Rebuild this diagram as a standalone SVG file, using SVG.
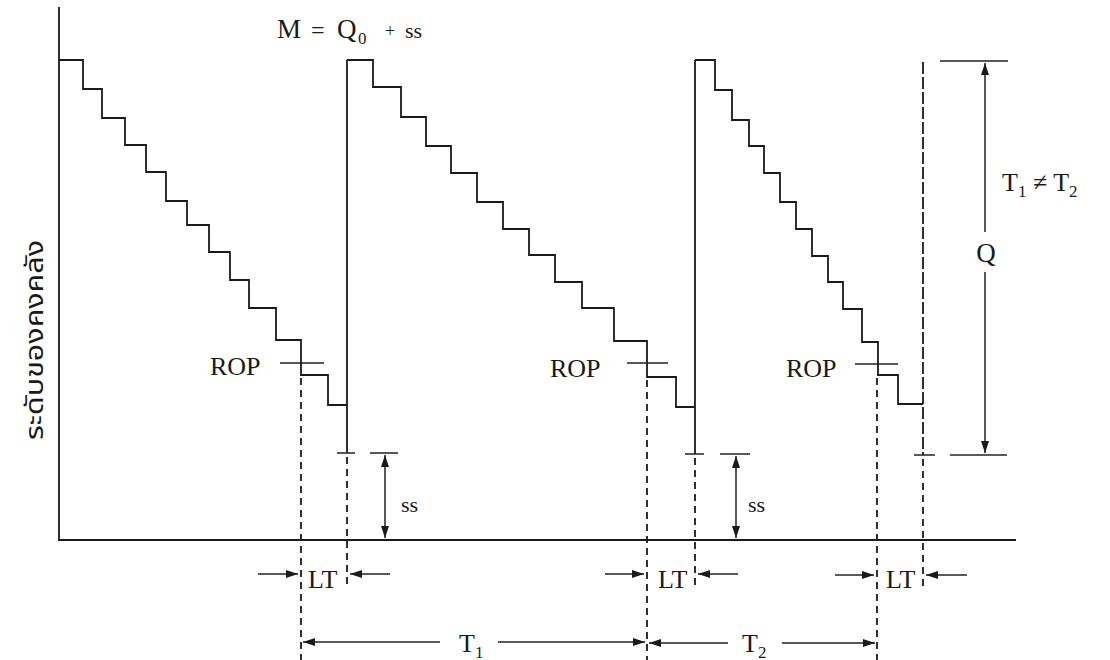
<svg xmlns="http://www.w3.org/2000/svg" width="1110" height="660" viewBox="0 0 1110 660">
<style>
.ln{stroke:#1a1a1a;stroke-width:1.8;fill:none}
.thin{stroke:#222;stroke-width:1.5;fill:none}
.dash{stroke:#1a1a1a;stroke-width:1.8;fill:none;stroke-dasharray:7 5}
.t{font-family:"Liberation Serif","Times New Roman",serif;fill:#1a1a1a}
.lbl{font-size:26px}
.sm{font-size:22px}
.sub{font-size:17px}
.th{font-family:"Noto Sans Thai","Noto Serif Thai","Loma","Garuda","DejaVu Sans","Liberation Sans",sans-serif;font-size:25px;fill:#1a1a1a}
</style>
<defs>
<marker id="ah" viewBox="0 0 12 8" refX="12" refY="4" markerWidth="12" markerHeight="8" markerUnits="userSpaceOnUse" orient="auto-start-reverse">
<path d="M0,0 L12,4 L0,8 z" fill="#1a1a1a"/>
</marker>
</defs>
<rect width="1110" height="660" fill="#ffffff"/>

<g id="axes">
<line class="ln" x1="59" y1="7" x2="59" y2="540"/>
<line class="ln" x1="58" y1="540" x2="1016" y2="540"/>
</g>

<g id="cycle1">
<path class="ln" d="M59,60 H83 V89 H102 V118 H125 V145 H146 V172 H166 V201 H187 V225 H209 V252 H230 V280 H249 V308 H276 V340 H301 V375 H328 V405 H347"/>
<line class="ln" x1="347" y1="60" x2="347" y2="453"/>
<line class="thin" x1="337" y1="453" x2="355" y2="453"/>
</g>

<g id="cycle2">
<path class="ln" d="M347,60 H373 V87 H401 V117 H426 V146 H451 V173 H477 V202 H503 V229 H529 V255 H555 V282 H582 V308 H614 V341 H647 V377 H676 V407 H695"/>
<line class="ln" x1="695" y1="60" x2="695" y2="454"/>
<line class="thin" x1="685" y1="454" x2="704" y2="454"/>
</g>

<g id="cycle3">
<path class="ln" d="M695,60 H715 V90 H732 V120 H749 V146 H764 V173 H780 V202 H796 V229 H812 V256 H828 V282 H843 V309 H862 V342 H878 V375 H898 V404 H923"/>
<line class="ln" x1="923" y1="62" x2="923" y2="455" stroke-dasharray="12 3" stroke-width="1.6"/>
<line class="thin" x1="914" y1="455" x2="935" y2="455"/>
</g>

<g id="rop1">
<line class="thin" x1="280" y1="363" x2="324" y2="363"/>
<text class="t lbl" x="210" y="375">ROP</text>
</g>
<g id="rop2">
<line class="thin" x1="627" y1="363" x2="668" y2="363"/>
<text class="t lbl" x="550" y="377">ROP</text>
</g>
<g id="rop3">
<line class="thin" x1="855" y1="364" x2="898" y2="364"/>
<text class="t lbl" x="786" y="377">ROP</text>
</g>

<g id="title">
<text class="t" x="277" y="38" font-size="27">M</text>
<text class="t" x="311" y="38" font-size="24">=</text>
<text class="t" x="337" y="38" font-size="27">Q</text>
<text class="t sub" x="358" y="44">0</text>
<text class="t" x="385" y="37" font-size="18">+</text>
<text class="t" x="405" y="38" font-size="22">ss</text>
</g>

<g id="label-T1neT2">
<text class="t" x="1002" y="191" font-size="26">T<tspan class="sub" dy="6">1</tspan><tspan dy="-6" font-size="26"> ≠ T</tspan><tspan class="sub" dy="6">2</tspan></text>
</g>

<g id="label-Q">
<text class="t" x="986" y="262" font-size="27" text-anchor="middle">Q</text>
</g>

<g id="label-ss1"><text class="t sm" x="401" y="512">ss</text></g>
<g id="label-ss2"><text class="t sm" x="748" y="512">ss</text></g>

<g id="label-LT1"><text class="t lbl" x="308" y="588">LT</text></g>
<g id="label-LT2"><text class="t lbl" x="658" y="588">LT</text></g>
<g id="label-LT3"><text class="t lbl" x="886" y="588">LT</text></g>

<g id="label-T1"><text class="t lbl" x="459" y="652">T<tspan class="sub" dy="6">1</tspan></text></g>
<g id="label-T2"><text class="t lbl" x="742" y="652">T<tspan class="sub" dy="6">2</tspan></text></g>

<g id="ylabel">
<text class="th" transform="translate(43,340) rotate(-90)" text-anchor="middle" textLength="200" lengthAdjust="spacingAndGlyphs">ระดับของคงคลัง</text>
</g>

<g id="connectors">
<line class="dash" x1="301" y1="378" x2="301" y2="660"/>
<line class="dash" x1="347" y1="457" x2="347" y2="588"/>
<line class="dash" x1="647" y1="380" x2="647" y2="660"/>
<line class="dash" x1="695" y1="458" x2="695" y2="588"/>
<line class="dash" x1="877" y1="378" x2="877" y2="660"/>
<line class="dash" x1="923" y1="459" x2="923" y2="590"/>
<line class="thin" x1="370" y1="453" x2="398" y2="453"/>
<line class="thin" x1="385" y1="455" x2="385" y2="538" marker-start="url(#ah)" marker-end="url(#ah)"/>
<line class="thin" x1="720" y1="454" x2="750" y2="454"/>
<line class="thin" x1="736" y1="456" x2="736" y2="538" marker-start="url(#ah)" marker-end="url(#ah)"/>
<line class="thin" x1="940" y1="61" x2="1008" y2="61"/>
<line class="thin" x1="950" y1="455" x2="1007" y2="455"/>
<line class="thin" x1="985" y1="232" x2="985" y2="63" marker-end="url(#ah)"/>
<line class="thin" x1="985" y1="272" x2="985" y2="453" marker-end="url(#ah)"/>
<line class="thin" x1="258" y1="574" x2="298" y2="574" marker-end="url(#ah)"/>
<line class="thin" x1="390" y1="574" x2="350" y2="574" marker-end="url(#ah)"/>
<line class="thin" x1="605" y1="574" x2="644" y2="574" marker-end="url(#ah)"/>
<line class="thin" x1="738" y1="574" x2="698" y2="574" marker-end="url(#ah)"/>
<line class="thin" x1="835" y1="575" x2="874" y2="575" marker-end="url(#ah)"/>
<line class="thin" x1="967" y1="575" x2="926" y2="575" marker-end="url(#ah)"/>
<line class="thin" x1="440" y1="642" x2="303" y2="642" marker-end="url(#ah)"/>
<line class="thin" x1="498" y1="642" x2="645" y2="642" marker-end="url(#ah)"/>
<line class="thin" x1="728" y1="643" x2="649" y2="643" marker-end="url(#ah)"/>
<line class="thin" x1="782" y1="643" x2="875" y2="643" marker-end="url(#ah)"/>
</g>
</svg>
